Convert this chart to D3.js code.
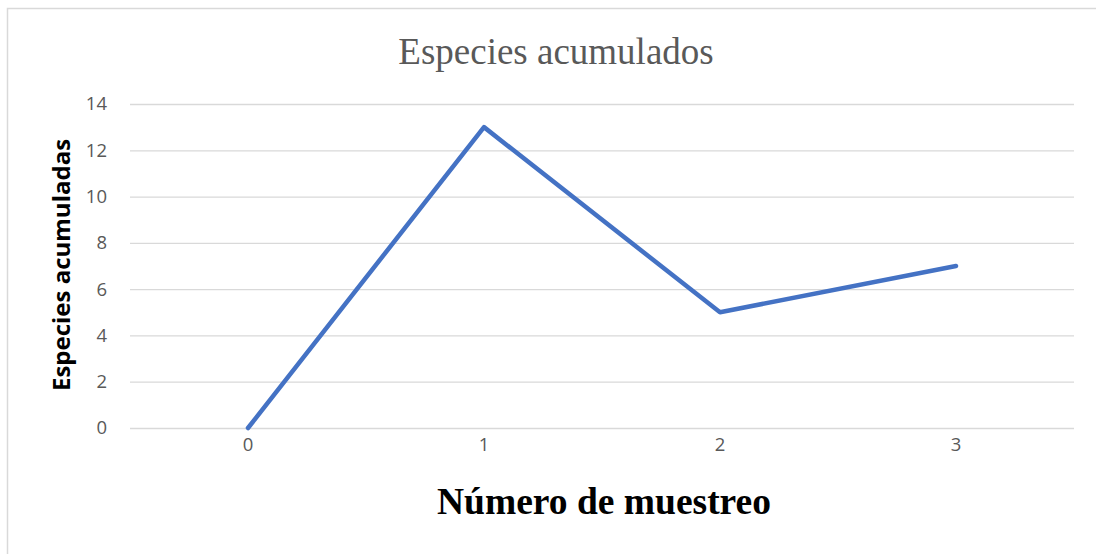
<!DOCTYPE html>
<html>
<head>
<meta charset="utf-8">
<script src="https://cdn.jsdelivr.net/npm/d3@7"></script>
<style>
  html, body { margin: 0; padding: 0; background: #fff; }
  svg { display: block; }
</style>
</head>
<body>
<svg id="chart" width="1096" height="554"></svg>
<script>
// Sampling number (categories) and accumulated species counts
const categories = ["0", "1", "2", "3"];
const values = [0, 13, 5, 7];
const yTicks = [0, 2, 4, 6, 8, 10, 12, 14];

const svg = d3.select("#chart");
const W = 1096, H = 554;
const plot = { left: 130, right: 1074, top: 104, bottom: 428 };

// Chart frame
svg.append("rect")
  .attr("x", 7.5).attr("y", 8.5)
  .attr("width", W + 10).attr("height", H + 10)
  .attr("fill", "#fff")
  .attr("stroke", "#d9d9d9").attr("stroke-width", 1.5);

const x = d3.scaleBand().domain(categories).range([plot.left, plot.right]);
const y = d3.scaleLinear().domain([0, 14]).range([plot.bottom, plot.top]);

const tickFont = "'Open Sans', 'Liberation Sans', sans-serif";

// Horizontal gridlines + y tick labels
const yAxis = d3.axisLeft(y).tickValues(yTicks).tickSize(-(plot.right - plot.left)).tickPadding(23);
const gy = svg.append("g").attr("transform", `translate(${plot.left},0)`).call(yAxis);
gy.select(".domain").remove();
gy.selectAll(".tick line").attr("stroke", "#d9d9d9").attr("stroke-width", 1.3);
gy.selectAll(".tick text")
  .attr("fill", "#595959")
  .style("font-family", tickFont)
  .style("font-size", "18.5px");

// x tick labels
const xAxis = d3.axisBottom(x).tickSize(0).tickPadding(10);
const gx = svg.append("g").attr("transform", `translate(0,${plot.bottom})`).call(xAxis);
gx.select(".domain").remove();
gx.selectAll(".tick text")
  .attr("fill", "#595959")
  .style("font-family", tickFont)
  .style("font-size", "18.5px");

// Data line
const line = d3.line()
  .x((d, i) => x(categories[i]) + x.bandwidth() / 2)
  .y(d => y(d));
svg.append("path")
  .datum(values)
  .attr("d", line)
  .attr("fill", "none")
  .attr("stroke", "#4472c4")
  .attr("stroke-width", 4.5)
  .attr("stroke-linecap", "round")
  .attr("stroke-linejoin", "round");

// Title
svg.append("text")
  .attr("x", 556).attr("y", 64)
  .attr("text-anchor", "middle")
  .attr("fill", "#595959")
  .style("font-family", "'Liberation Serif', 'Times New Roman', serif")
  .style("font-size", "37px")
  .text("Especies acumulados");

// Axis titles
svg.append("text")
  .attr("transform", `translate(70,265) rotate(-90)`)
  .attr("text-anchor", "middle")
  .attr("fill", "#000")
  .style("font-family", "'Open Sans', 'Liberation Sans', sans-serif")
  .style("font-weight", "bold")
  .style("font-size", "24px")
  .text("Especies acumuladas");

svg.append("text")
  .attr("x", 604).attr("y", 514)
  .attr("text-anchor", "middle")
  .attr("fill", "#000")
  .style("font-family", "'Liberation Serif', 'Times New Roman', serif")
  .style("font-weight", "bold")
  .style("font-size", "37.5px")
  .text("Número de muestreo");
</script>
</body>
</html>
